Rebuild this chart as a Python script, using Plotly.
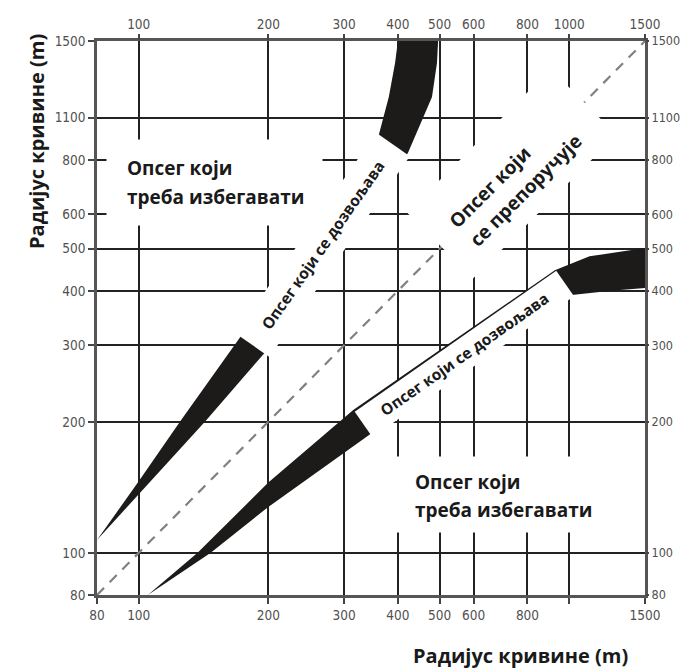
import numpy as np
import plotly.graph_objects as go

# ---------------- data ----------------
x_ticks_bottom = [80, 100, 200, 300, 400, 500, 600, 800, 1000, 1500]
x_text_bottom = ["80", "100", "200", "300", "400", "500", "600", "800", "", "1500"]
x_ticks_top = [100, 200, 300, 400, 500, 600, 800, 1000, 1500]
x_text_top = ["100", "200", "300", "400", "500", "600", "800", "1000", "1500"]
y_ticks = [80, 100, 200, 300, 400, 500, 600, 800, 1000, 1500]
y_text = ["80", "100", "200", "300", "400", "500", "600", "800", "1100", "1500"]

# upper band (R1 on x, R2 on y): steep edge and flat edge
upper_steep_r1 = [80, 100, 125, 172, 360, 381, 394, 400]
upper_steep_r2 = [107, 146, 201, 313, 902, 1115, 1336, 1500]
upper_flat_r1 = [80, 143, 196, 422, 445, 480, 493, 496]
upper_flat_r2 = [107, 201, 288, 829, 937, 1115, 1336, 1500]

# lower band: upper edge and lower edge
lower_top_r1 = [105, 137, 200, 315, 926, 1115, 1336, 1500]
lower_top_r2 = [80, 100, 145, 213, 446, 480, 493, 502]
lower_bot_r1 = [105, 147, 200, 348, 1014, 1250, 1500]
lower_bot_r2 = [80, 100, 127.5, 188.5, 391, 400, 406]

diag_r = [80, 1500]
axis_min, axis_max = 80, 1500

label_avoid = ["Опсег који", "треба избегавати"]
label_allowed = "Опсег који се дозвољава"
label_recommended = ["Опсег који", "се препоручује"]
axis_title = "Радијус кривине (m)"

# ---------------- figure ----------------
BAND = "#1d1a1a"
TXT = "#1a1a1a"
fig = go.Figure()

fig.add_trace(go.Scatter(
    x=upper_steep_r1 + upper_flat_r1[::-1],
    y=upper_steep_r2 + upper_flat_r2[::-1],
    fill="toself", fillcolor=BAND, mode="lines", line=dict(width=0, color=BAND),
    hoverinfo="skip", showlegend=False))
fig.add_trace(go.Scatter(
    x=lower_top_r1 + lower_bot_r1[::-1],
    y=lower_top_r2 + lower_bot_r2[::-1],
    fill="toself", fillcolor=BAND, mode="lines", line=dict(width=0, color=BAND),
    hoverinfo="skip", showlegend=False))
fig.add_trace(go.Scatter(
    x=diag_r, y=diag_r, mode="lines",
    line=dict(color="#808080", width=2.2, dash="10px,8px"),
    hoverinfo="skip", showlegend=False))
# invisible trace so the top/right axes are drawn
fig.add_trace(go.Scatter(
    x=diag_r, y=diag_r, xaxis="x2", yaxis="y2", mode="markers",
    marker=dict(opacity=0), hoverinfo="skip", showlegend=False))

L = np.log10
rng = [L(axis_min), L(axis_max)]
tickfont = dict(family="DejaVu Sans Condensed, Liberation Sans Narrow, sans-serif",
                size=13.5, color="#505050")
common = dict(type="log", range=rng, ticks="outside", ticklen=6, tickwidth=2,
              tickcolor="#444", tickfont=tickfont, zeroline=False, fixedrange=True,
              automargin=False)
right_axis = {**common, "ticklen": 3, "tickfont": {**tickfont, "size": 12.5}}

fig.update_layout(
    width=681, height=670, autosize=False,
    margin=dict(l=97, r=36, t=41, b=75, autoexpand=False),
    paper_bgcolor="white", plot_bgcolor="white",
    font=dict(family="Open Sans, DejaVu Sans, sans-serif"),
    xaxis=dict(**common, tickvals=x_ticks_bottom, ticktext=x_text_bottom,
               showgrid=True, gridcolor="#222", gridwidth=2,
               showline=True, linecolor="#555", linewidth=2.5, mirror=True),
    yaxis=dict(**common, tickvals=y_ticks, ticktext=y_text,
               showgrid=True, gridcolor="#222", gridwidth=2,
               showline=True, linecolor="#555", linewidth=2.5, mirror=True),
    xaxis2=dict(**common, overlaying="x", side="top", tickvals=x_ticks_top,
                ticktext=x_text_top, showgrid=False, showline=False),
    yaxis2=dict(**right_axis, overlaying="y", side="right", tickvals=y_ticks,
                ticktext=y_text, showgrid=False, showline=False),
)

ann = []
big = dict(family="Open Sans, DejaVu Sans, sans-serif", size=19, color=TXT)
small = dict(family="Open Sans, DejaVu Sans, sans-serif", size=15.5, color=TXT)
title_font = dict(family="Open Sans, DejaVu Sans, sans-serif", size=20, color=TXT)

# top-left "avoid" box + text
ann.append(dict(x=L(150), y=L(710), text=" ", bgcolor="white", width=215, height=85, borderpad=0))
ann.append(dict(x=L(92.9), y=L(766), xanchor="left", text="<b>%s</b>" % label_avoid[0], font=big))
ann.append(dict(x=L(92.9), y=L(657), xanchor="left", text="<b>%s</b>" % label_avoid[1], font=big))
# bottom-right "avoid" box + text
ann.append(dict(x=L(681), y=L(136), text=" ", bgcolor="white", width=215, height=75, borderpad=0))
ann.append(dict(x=L(433), y=L(145.5), xanchor="left", text="<b>%s</b>" % label_avoid[0], font=big))
ann.append(dict(x=L(433), y=L(125.4), xanchor="left", text="<b>%s</b>" % label_avoid[1], font=big))
# band labels (rotated white boxes)
ann.append(dict(x=L(267.6), y=L(509.4), text="<b>%s</b>" % label_allowed, textangle=-55,
                bgcolor="white", width=244, height=40, borderpad=0, font=small))
ann.append(dict(x=L(571), y=L(286), text="<b>%s</b>" % label_allowed, textangle=-35,
                bgcolor="white", width=245, height=30, borderpad=0, font=small))
# recommended range box + text
ann.append(dict(x=L(735), y=L(742), text=" ", textangle=-45, bgcolor="white",
                width=202, height=92, borderpad=0))
ann.append(dict(x=L(654), y=L(693), text="<b>%s</b>" % label_recommended[0], textangle=-45, font=big))
ann.append(dict(x=L(793), y=L(682), text="<b>%s</b>" % label_recommended[1], textangle=-45, font=big))

for a in ann:
    a.setdefault("xref", "x")
    a.setdefault("yref", "y")
    a.setdefault("xanchor", "center")
    a.setdefault("yanchor", "middle")
    a["showarrow"] = False

# axis titles
ann.append(dict(xref="paper", yref="paper", x=(36 - 97) / 548, y=(595 - 142) / 554,
                xanchor="center", yanchor="middle",
                text="<b>%s</b>" % axis_title, textangle=-90, showarrow=False, font=title_font))
ann.append(dict(xref="paper", yref="paper", x=(520 - 97) / 548, y=(595 - 655) / 554,
                xanchor="center", yanchor="middle",
                text="<b>%s</b>" % axis_title, showarrow=False, font=title_font))

fig.update_layout(annotations=ann)
fig.write_html(
    "out.html",
    config={"displayModeBar": False},
    post_script="document.body.style.margin='0';"
                "document.documentElement.style.overflow='hidden';",
)
